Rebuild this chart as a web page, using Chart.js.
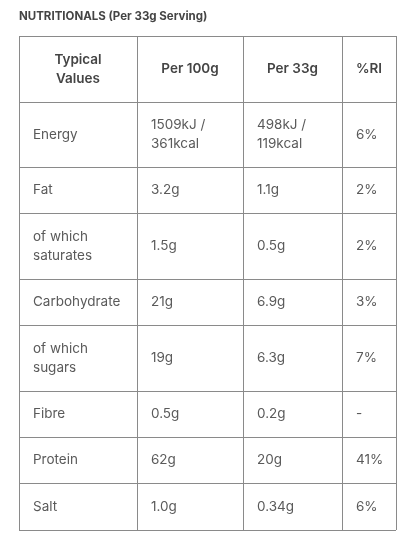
<!DOCTYPE html>
<html><head><meta charset="utf-8">
<script src="https://cdn.jsdelivr.net/npm/chart.js@4"></script>
<style>html,body{margin:0;background:#fff}#wrap{width:416px;height:533px}</style>
</head><body><div id="wrap"><canvas id="myChart"></canvas></div>
<script>
const title = 'NUTRITIONALS (Per 33g Serving)';
const headers = [['Typical', 'Values'], ['Per 100g'], ['Per 33g'], ['%RI']];
const nutrients = [['Energy'], ['Fat'], ['of which', 'saturates'], ['Carbohydrate'], ['of which', 'sugars'], ['Fibre'], ['Protein'], ['Salt']];
const per100g = [['1509kJ /', '361kcal'], ['3.2g'], ['1.5g'], ['21g'], ['19g'], ['0.5g'], ['62g'], ['1.0g']];
const per33g = [['498kJ /', '119kcal'], ['1.1g'], ['0.5g'], ['6.9g'], ['6.3g'], ['0.2g'], ['20g'], ['0.34g']];
const ri = [['6%'], ['2%'], ['2%'], ['3%'], ['7%'], ['-'], ['41%'], ['6%']];

// layout (pixels in the 416x533 frame)
const colEdges = [19, 137, 243, 342, 396];
const rowEdges = [36, 102, 167, 213, 279, 325, 391, 437, 483, 530];

const ctx = document.getElementById('myChart');

const tablePlugin = {
  id: 'table',
  afterDraw(chart) {
    const c = chart.ctx, xs = chart.scales.x, ys = chart.scales.y;
    const X = v => xs.getPixelForValue(v), Y = v => ys.getPixelForValue(v);
    c.save();
    c.fillStyle = '#444';
    c.font = 'bold 11.5px Inter';
    c.textBaseline = 'middle';
    c.fillText(title, X(19), Y(17));
    c.strokeStyle = '#8a8a8a';
    c.lineWidth = 1;
    for (const x of colEdges) { c.beginPath(); c.moveTo(X(x) + 0.5, Y(rowEdges[0])); c.lineTo(X(x) + 0.5, Y(rowEdges[rowEdges.length - 1])); c.stroke(); }
    for (const y of rowEdges) { c.beginPath(); c.moveTo(X(colEdges[0]), Y(y) + 0.5); c.lineTo(X(colEdges[4]), Y(y) + 0.5); c.stroke(); }
    const cell = (lines, col, row, center, bold) => {
      const top = rowEdges[row], bot = rowEdges[row + 1], mid = (top + bot) / 2;
      c.font = (bold ? '600 ' : '') + '13.5px Inter';
      c.fillStyle = bold ? '#444' : '#5a5a5a';
      c.textAlign = center ? 'center' : 'left';
      const lh = 19;
      lines.forEach((t, i) => {
        const y = mid + (i - (lines.length - 1) / 2) * lh;
        const x = center ? (colEdges[col] + colEdges[col + 1]) / 2 : colEdges[col] + 14;
        c.fillText(t, X(x), Y(y));
      });
    };
    headers.forEach((h, i) => cell(h, i, 0, true, true));
    nutrients.forEach((n, r) => {
      cell(n, 0, r + 1, false);
      cell(per100g[r], 1, r + 1, false);
      cell(per33g[r], 2, r + 1, false);
      cell(ri[r], 3, r + 1, false);
    });
    c.restore();
  }
};

new Chart(ctx, {
  type: 'scatter',
  data: { datasets: [{ data: [] }] },
  options: {
    responsive: true,
    maintainAspectRatio: false,
    animation: false,
    layout: { padding: 0 },
    plugins: { legend: { display: false }, tooltip: { enabled: false } },
    scales: {
      x: { type: 'linear', min: 0, max: 416, display: false },
      y: { type: 'linear', min: 0, max: 533, reverse: true, display: false }
    }
  },
  plugins: [tablePlugin]
});
</script></body></html>
